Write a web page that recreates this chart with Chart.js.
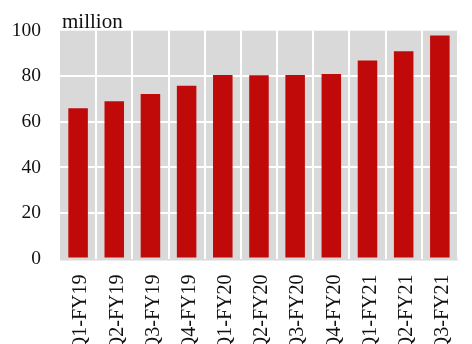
<!DOCTYPE html>
<html>
<head>
<meta charset="utf-8">
<script src="https://cdn.jsdelivr.net/npm/chart.js@4"></script>
<style>
    html, body { margin: 0; padding: 0; overflow: hidden; background: #fff; }
    #wrap { width: 472px; height: 344px; overflow: hidden; }
</style>
</head>
<body>
<div id="wrap"><canvas id="chart" width="480" height="370"></canvas></div>
<script>
const quarters = ['Q1-FY19', 'Q2-FY19', 'Q3-FY19', 'Q4-FY19', 'Q1-FY20', 'Q2-FY20',
    'Q3-FY20', 'Q4-FY20', 'Q1-FY21', 'Q2-FY21', 'Q3-FY21'];
const users = [66, 69, 72.2, 75.8, 80.5, 80.4, 80.6, 81, 86.9, 91, 97.9];
const unitLabel = 'million';

const fontFamily = '"Liberation Serif", "Times New Roman", serif';
const textColor = '#111';

// grey plot background (a little past the bottom, like the original)
const plotBackground = {
    id: 'plotBackground',
    beforeDraw(chart) {
        const { ctx, chartArea } = chart;
        ctx.save();
        ctx.fillStyle = '#d9d9d9';
        ctx.fillRect(chartArea.left, chartArea.top, chartArea.right - chartArea.left, chartArea.bottom - chartArea.top + 2);
        ctx.restore();
    },
    afterDraw(chart) {
        const { ctx, chartArea } = chart;
        ctx.save();
        ctx.fillStyle = textColor;
        ctx.font = '21px ' + fontFamily;
        ctx.textBaseline = 'alphabetic';
        ctx.fillText(unitLabel, chartArea.left + 2, 28);
        ctx.restore();
    }
};

const ctx = document.getElementById('chart').getContext('2d');
new Chart(ctx, {
    type: 'bar',
    data: {
        labels: quarters,
        datasets: [{
            data: users,
            backgroundColor: '#c00a0a',
            borderWidth: 0,
            categoryPercentage: 1,
            barPercentage: 0.54
        }]
    },
    options: {
        responsive: false,
        animation: false,
        layout: { padding: { top: 30.5, left: 0, right: 3.4, bottom: 0 } },
        plugins: {
            legend: { display: false },
            tooltip: { enabled: false }
        },
        scales: {
            x: {
                afterFit: scale => { scale.height = 370 - 258.5; },
                border: { display: false },
                grid: {
                    offset: true,
                    drawTicks: false,
                    lineWidth: 2,
                    color: c => (c.index === 0 ? 'rgba(0,0,0,0)' : '#ffffff')
                },
                ticks: {
                    minRotation: 90,
                    maxRotation: 90,
                    padding: 16,
                    labelOffset: 3,
                    color: textColor,
                    font: { family: fontFamily, size: 20 }
                }
            },
            y: {
                min: 0,
                max: 100,
                afterFit: scale => { scale.width = 60; },
                border: { display: false },
                grid: {
                    drawTicks: false,
                    lineWidth: 2,
                    color: c => (c.tick && c.tick.value > 0 && c.tick.value < 100 ? '#ffffff' : 'rgba(0,0,0,0)')
                },
                ticks: {
                    stepSize: 20,
                    padding: 19,
                    color: textColor,
                    font: { family: fontFamily, size: 19.5 }
                }
            }
        }
    },
    plugins: [plotBackground]
});
</script>
</body>
</html>
